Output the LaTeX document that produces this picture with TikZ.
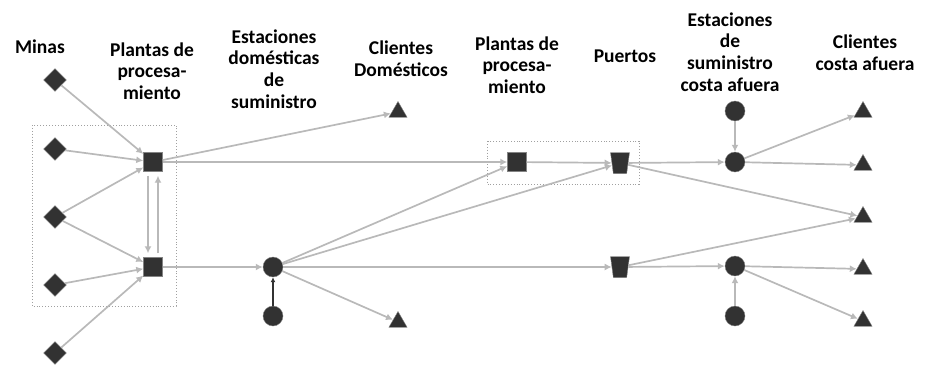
\documentclass[tikz,border=0pt]{standalone}
\usepackage{fontspec}
\setmainfont{Carlito}
\usetikzlibrary{arrows.meta,shapes.geometric}
\definecolor{node-gray}{RGB}{50,50,50}
\definecolor{edge-gray}{RGB}{185,185,185}
\definecolor{box-gray}{RGB}{160,160,160}
\tikzset{>={Latex[width=7pt,length=7pt]}}
\tikzset{
  mine/.style={diamond, fill=node-gray, draw=node-gray!60, inner sep=0pt, minimum size=23pt},
  plant/.style={rectangle, fill=node-gray, draw=node-gray!60, inner sep=0pt, minimum size=19pt},
  station/.style={circle, fill=node-gray, draw=node-gray!60, inner sep=0pt, minimum size=20pt},
  client/.style={regular polygon, regular polygon sides=3, fill=node-gray, draw=node-gray!60, inner sep=0pt, minimum size=21pt},
  port/.style={trapezium, shape border rotate=180, trapezium left angle=78, trapezium right angle=78,
    trapezium stretches=true, fill=node-gray, draw=node-gray!60, inner sep=1pt, minimum height=21pt, minimum width=19pt},
  flow/.style={->, edge-gray, line width=1.7pt},
  feed/.style={->, node-gray, line width=1.6pt, >={Latex[width=5pt,length=5pt]}},
  group/.style={box-gray, dotted, line width=0.9pt},
  heading/.style={font=\bfseries\fontsize{19.5}{21.7}\selectfont, align=center}
}

\begin{document}
\begin{tikzpicture}[x=1pt,y=1pt]
    \useasboundingbox (0,0) rectangle (928,-368);

    % headings
    \node[heading] (h-mines) at (40,-47) {Minas};
    \node[heading] (h-plants) at (152,-71) {Plantas de\\procesa-\\miento};
    \node[heading] (h-dom-stations) at (274,-69) {Estaciones\\domésticas\\de\\suministro};
    \node[heading] (h-dom-clients) at (401,-59) {Clientes\\Domésticos};
    \node[heading] (h-off-plants) at (517,-65) {Plantas de\\procesa-\\miento};
    \node[heading] (h-ports) at (625,-56) {Puertos};
    \node[heading] (h-off-stations) at (730,-52) {Estaciones\\de\\suministro\\costa afuera};
    \node[heading] (h-off-clients) at (865,-53) {Clientes\\costa afuera};

    % groups
    \draw[group] (32,-125) rectangle (176,-306);
    \draw[group] (487,-141) rectangle (639,-184);

    % mines
    \node[mine] (M1) at (55,-80) {};
    \node[mine] (M2) at (55,-149) {};
    \node[mine] (M3) at (55,-217) {};
    \node[mine] (M4) at (55,-285) {};
    \node[mine] (M5) at (55,-353) {};

    % processing plants
    \node[plant] (P1) at (153,-162) {};
    \node[plant] (P2) at (153,-267) {};
    \node[plant] (P3) at (517,-162) {};

    % domestic supply stations
    \node[station] (D1) at (273,-267) {};
    \node[station] (D2) at (273,-316) {};

    % domestic clients
    \node[client] (C1) at (398,-112) {};
    \node[client] (C2) at (398,-322) {};

    % ports
    \node[port] (Q1) at (620,-163) {};
    \node[port] (Q2) at (620,-267) {};

    % offshore supply stations
    \node[station] (S0) at (735,-111) {};
    \node[station] (S1) at (735,-162) {};
    \node[station] (S2) at (735,-266) {};
    \node[station] (S3) at (735,-316) {};

    % offshore clients
    \node[client] (K1) at (863,-112) {};
    \node[client] (K2) at (863,-165) {};
    \node[client] (K3) at (863,-217) {};
    \node[client] (K4) at (863,-269) {};
    \node[client] (K5) at (863,-321) {};

    % flows
    \draw[flow] (M1) -- (P1);
    \draw[flow] (M2) -- (P1);
    \draw[flow] (M3) -- (P1);
    \draw[flow] (M3) -- (P2);
    \draw[flow] (M4) -- (P2);
    \draw[flow] (M5) -- (P2);
    \draw[flow] ([xshift=-5pt,yshift=-4pt]P1.south) -- ([xshift=-5pt,yshift=4pt]P2.north);
    \draw[flow] ([xshift=5pt,yshift=4pt]P2.north) -- ([xshift=5pt,yshift=-4pt]P1.south);
    \draw[flow] (P1) -- (C1);
    \draw[flow] (P1) -- (P3);
    \draw[flow] (P2) -- (D1);
    \draw[feed] (D2) -- (D1);
    \draw[flow] (D1) -- (P3);
    \draw[flow] (D1) -- (Q1);
    \draw[flow] (D1) -- (Q2);
    \draw[flow] (D1) -- (C2);
    \draw[flow] (P3) -- (Q1);
    \draw[flow] (Q1) -- (S1);
    \draw[flow] (Q1) -- (K3);
    \draw[flow] (Q2) -- (S2);
    \draw[flow] (Q2) -- (K3);
    \draw[flow] (S0) -- (S1);
    \draw[flow] (S3) -- (S2);
    \draw[flow] (S1) -- (K1);
    \draw[flow] (S1) -- (K2);
    \draw[flow] (S2) -- (K4);
    \draw[flow] (S2) -- (K5);
\end{tikzpicture}
\end{document}
